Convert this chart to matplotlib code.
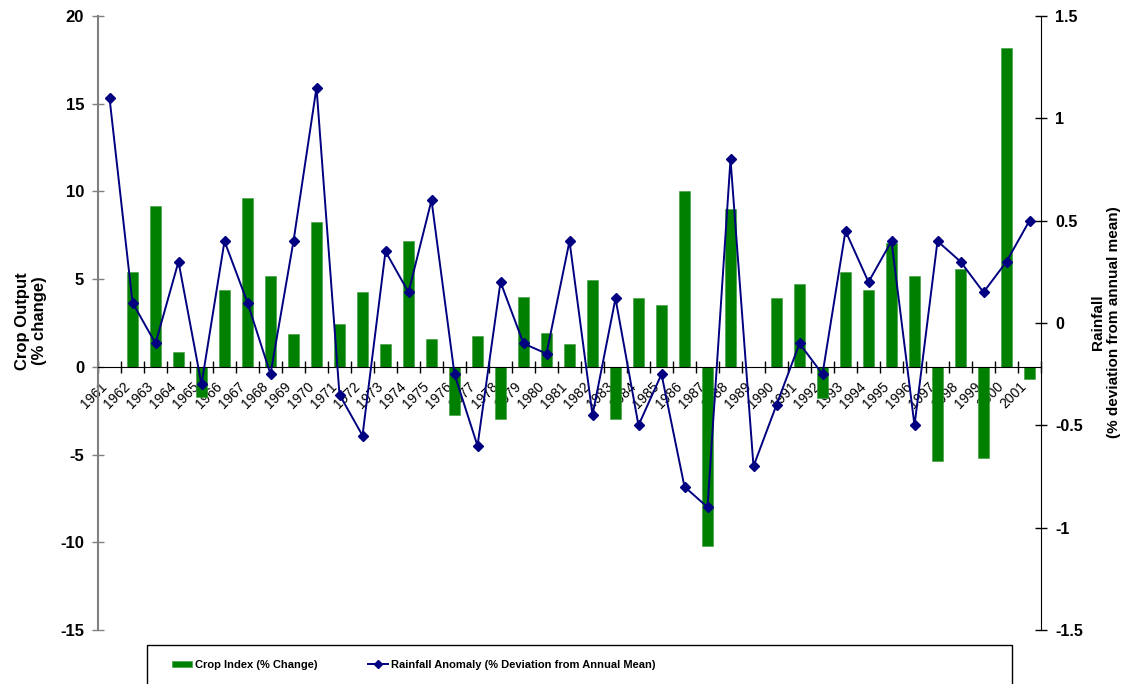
import numpy as np
from matplotlib import pyplot as plt
from matplotlib.patches import Rectangle
from matplotlib.ticker import FormatStrFormatter, FuncFormatter


years = [str(y) for y in range(1961, 2002)]

crop_index = [0.0, 5.4, 9.15, 0.85, -1.7, 4.4, 9.65, 5.2, 1.85, 8.25,
              2.45, 4.25, 1.3, 7.2, 1.6, -2.75, 1.75, -2.95, 4.0, 1.95,
              1.3, 4.95, -2.95, 3.9, 3.5, 10.0, -10.2, 9.0, 0.0, 3.9,
              4.75, -1.8, 5.4, 4.4, 7.05, 5.2, -5.35, 5.55, -5.2, 18.2,
              -0.7]

rainfall = [1.10, 0.10, -0.10, 0.30, -0.30, 0.40, 0.10, -0.25, 0.40, 1.15,
            -0.35, -0.55, 0.35, 0.15, 0.60, -0.25, -0.60, 0.20, -0.10, -0.15,
            0.40, -0.45, 0.12, -0.50, -0.25, -0.80, -0.90, 0.80, -0.70, -0.40,
            -0.10, -0.25, 0.45, 0.20, 0.40, -0.50, 0.40, 0.30, 0.15, 0.30,
            0.50]

plt.rcParams['font.family'] = ['Liberation Sans', 'DejaVu Sans']
plt.rcParams['axes.unicode_minus'] = False

fig = plt.figure(figsize=(11.3, 6.84), dpi=100)
ax = fig.add_axes([98 / 1130, 54 / 684, 943 / 1130, 614 / 684])
ax2 = ax.twinx()

x = np.arange(len(years))

bars = ax.bar(x, crop_index, width=0.47, color='#008000', edgecolor='#3a9a3a',
              linewidth=0.4, label='Crop Index (% Change)', zorder=2)
line, = ax2.plot(x, rainfall, color='#000080', linewidth=1.4, marker='D',
                 markersize=5.5, label='Rainfall Anomaly (% Deviation from Annual Mean)')

# left axis
ax.set_xlim(-0.5, len(years) - 0.5)
ax.set_ylim(-15, 20)
ax.set_yticks(np.arange(-15, 21, 5))
ax.yaxis.set_major_formatter(FormatStrFormatter('%d'))
ax.tick_params(axis='y', direction='inout', length=8, width=1, color='#808080',
               labelsize=12, pad=6)
for t in ax.get_yticklabels():
    t.set_fontweight('bold')

# right axis
ax2.set_ylim(-1.5, 1.5)
ax2.set_yticks(np.arange(-1.5, 1.51, 0.5))
ax2.yaxis.set_major_formatter(FuncFormatter(lambda v, p: '%g' % round(v, 2)))
ax2.tick_params(axis='y', direction='inout', length=8, width=1, color='black',
                labelsize=11.5, pad=6)
for t in ax2.get_yticklabels():
    t.set_fontweight('bold')

# category axis at zero
ax.spines['bottom'].set_position(('data', 0))
ax.spines['bottom'].set_color('black')
ax.spines['bottom'].set_zorder(3)
ax.spines['top'].set_visible(False)
ax.spines['right'].set_visible(False)
ax.spines['left'].set_color('#808080')
ax.spines['left'].set_linewidth(1.5)
ax2.spines['top'].set_visible(False)
ax2.spines['left'].set_visible(False)
ax2.spines['bottom'].set_visible(False)
ax2.spines['right'].set_color('black')

ax.set_xticks(x)
ax.set_xticklabels(years, rotation=45, ha='right', va='top', fontsize=10)
ax.set_xticks(np.arange(-0.5, len(years), 1), minor=True)
ax.tick_params(axis='x', which='major', length=0, pad=9)
ax.tick_params(axis='x', which='minor', direction='inout', length=8, width=1)

# axis titles
fig.text(31 / 1130, 1 - 321 / 684, 'Crop Output\n(% change)', rotation=90,
         ha='center', va='center', fontsize=12, fontweight='bold', linespacing=1.1)
fig.text(1106 / 1130, 1 - 322 / 684, 'Rainfall\n(% deviation from annual mean)',
         rotation=90, ha='center', va='center', fontsize=11, fontweight='bold',
         linespacing=1.15)

# legend box (cut off at the bottom like the original)
fig.patches.append(Rectangle((147 / 1130, -0.05), (1012 - 147) / 1130,
                             (684 - 645) / 684 + 0.05, transform=fig.transFigure,
                             fill=False, edgecolor='black', linewidth=1))
fig.legend(handles=[bars, line], loc='center left', ncol=2, frameon=False,
           bbox_to_anchor=(162 / 1130, 1 - 665 / 684),
           prop={'weight': 'bold', 'size': 8},
           handlelength=1.8, handleheight=0.55, handletextpad=0.3,
           columnspacing=4.5, markerscale=0.7)

fig.savefig('out.png', dpi=100)
